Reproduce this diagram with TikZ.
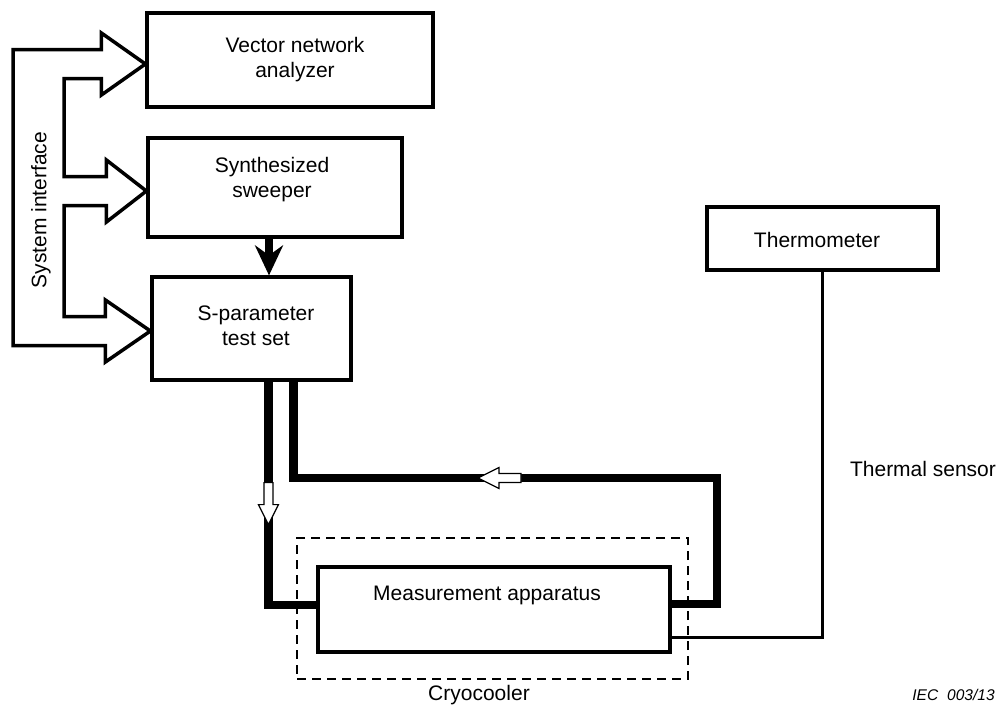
\documentclass[tikz,border=0pt]{standalone}
\usepackage{fontspec}
\setmainfont{Liberation Sans}
\usetikzlibrary{calc,arrows.meta}
\begin{document}
\begin{tikzpicture}[x=1pt,y=-1pt,
  every node/.style={font=\fontsize{21}{25}\selectfont, inner sep=0pt},
  blk/.style={draw, line width=3.2pt, minimum width=#1},
  lbl/.style={align=center},
  sysarrow/.style={draw, line width=3.5pt, line join=miter},
  cable/.style={draw, line width=8.5pt, line join=miter, line cap=butt},
  thin/.style={draw, line width=3pt, line join=miter},
  hollow/.style={draw, fill=white, line width=1.2pt, line join=miter},
  cryobox/.style={draw, line width=2pt, dash pattern=on 9pt off 6pt},
  bigarrow/.style={draw, line width=8pt, -{Stealth[length=30pt,width=28pt,inset=10pt]}}]
\useasboundingbox (0,0) rectangle (1000,707);

% boxes
\node[blk=286pt, minimum height=94pt] (vna) at (290,60) {};
\node[blk=254pt, minimum height=99pt] (sw) at (275,187.5) {};
\node[blk=199pt, minimum height=103pt] (sp) at (251.5,328.5) {};
\node[blk=231pt, minimum height=63pt] (th) at (822.5,238.5) {};
\node[blk=352pt, minimum height=85pt] (ma) at (494,609.5) {};
\node[cryobox, minimum width=391pt, minimum height=141pt] (cryo) at (492.5,608.5) {};

% texts
\node[lbl] (vnat) at (295,59.5) {Vector network\\analyzer};
\node[lbl] (swt) at (272,179.5) {Synthesized\\sweeper};
\node[lbl] (spt) at (256,326) {S-parameter\\test set};
\node (tht) at (817,240) {Thermometer};
\node (mat) at (487,595) {Measurement apparatus};
\node (cryot) at (479,695) {Cryocooler};
\node (tst) at (923,469) {Thermal sensor};
\node[rotate=90] (sit) at (41,210) {System interface};
\node[font=\fontsize{15.5}{18}\selectfont\itshape] (iec) at (953.5,695) {IEC\hspace{9pt}003/13};

% system interface bracket
\coordinate (OL) at (13,0);
\coordinate (IL) at (64,0);
\coordinate (T1) at ($(vna.west)+(0,4)$);
\coordinate (T2) at ($(sw.west)+(0,3.5)$);
\coordinate (T3) at ($(sp.west)+(0,2.5)$);
\coordinate (a1) at ($(T1)+(0,14.5)$);
\coordinate (a2) at ($(T1)+(0,-14.5)$);
\coordinate (a3) at ($(T3)+(0,14.5)$);
\coordinate (a4) at ($(T3)+(0,-14.5)$);
\coordinate (a5) at ($(T2)+(0,14.5)$);
\coordinate (a6) at ($(T2)+(0,-14.5)$);
\draw[sysarrow] (IL |- a1) -- ($(T1)+(-44,14.5)$) -- ($(T1)+(-44,31)$) -- (T1)
  -- ($(T1)+(-44,-31)$) -- ($(T1)+(-44,-14.5)$) -- (OL |- a2)
  -- (OL |- a3) -- ($(T3)+(-45,14.5)$) -- ($(T3)+(-45,31)$) -- (T3)
  -- ($(T3)+(-45,-31)$) -- ($(T3)+(-45,-14.5)$) -- (IL |- a4)
  -- (IL |- a5) -- ($(T2)+(-40,14.5)$) -- ($(T2)+(-40,31)$) -- (T2)
  -- ($(T2)+(-40,-31)$) -- ($(T2)+(-40,-14.5)$) -- (IL |- a6) -- cycle;

% sweeper -> s-parameter
\coordinate (s0) at ($(sw.south)+(-6,0)$);
\draw[bigarrow] (s0) -- (s0 |- sp.north);

% cables
\coordinate (c1) at ($(sp.south west)+(118,0)$);
\coordinate (c2) at ($(sp.south west)+(143,0)$);
\coordinate (cr) at (717,478);
\draw[cable] (c1) |- ($(ma.west)+(0,-4.5)$);
\draw[cable] (c2) |- (cr) |- ($(ma.east)+(0,-5.5)$);

% hollow arrows on cables
\draw[hollow] ($(c1)+(-4.5,101)$) -- ++(9,0) -- ++(0,22) -- ++(5.5,0) -- ++(-10,20) -- ++(-10,-20) -- ++(5.5,0) -- cycle;
\draw[hollow] ($(cr)+(-239,0)$) -- ++(21,-10.5) -- ++(0,6) -- ++(22,0) -- ++(0,9) -- ++(-22,0) -- ++(0,6) -- cycle;

% thermal sensor line
\draw[thin] (th.south) |- ($(ma.east)+(0,27.5)$);
\end{tikzpicture}
\end{document}
